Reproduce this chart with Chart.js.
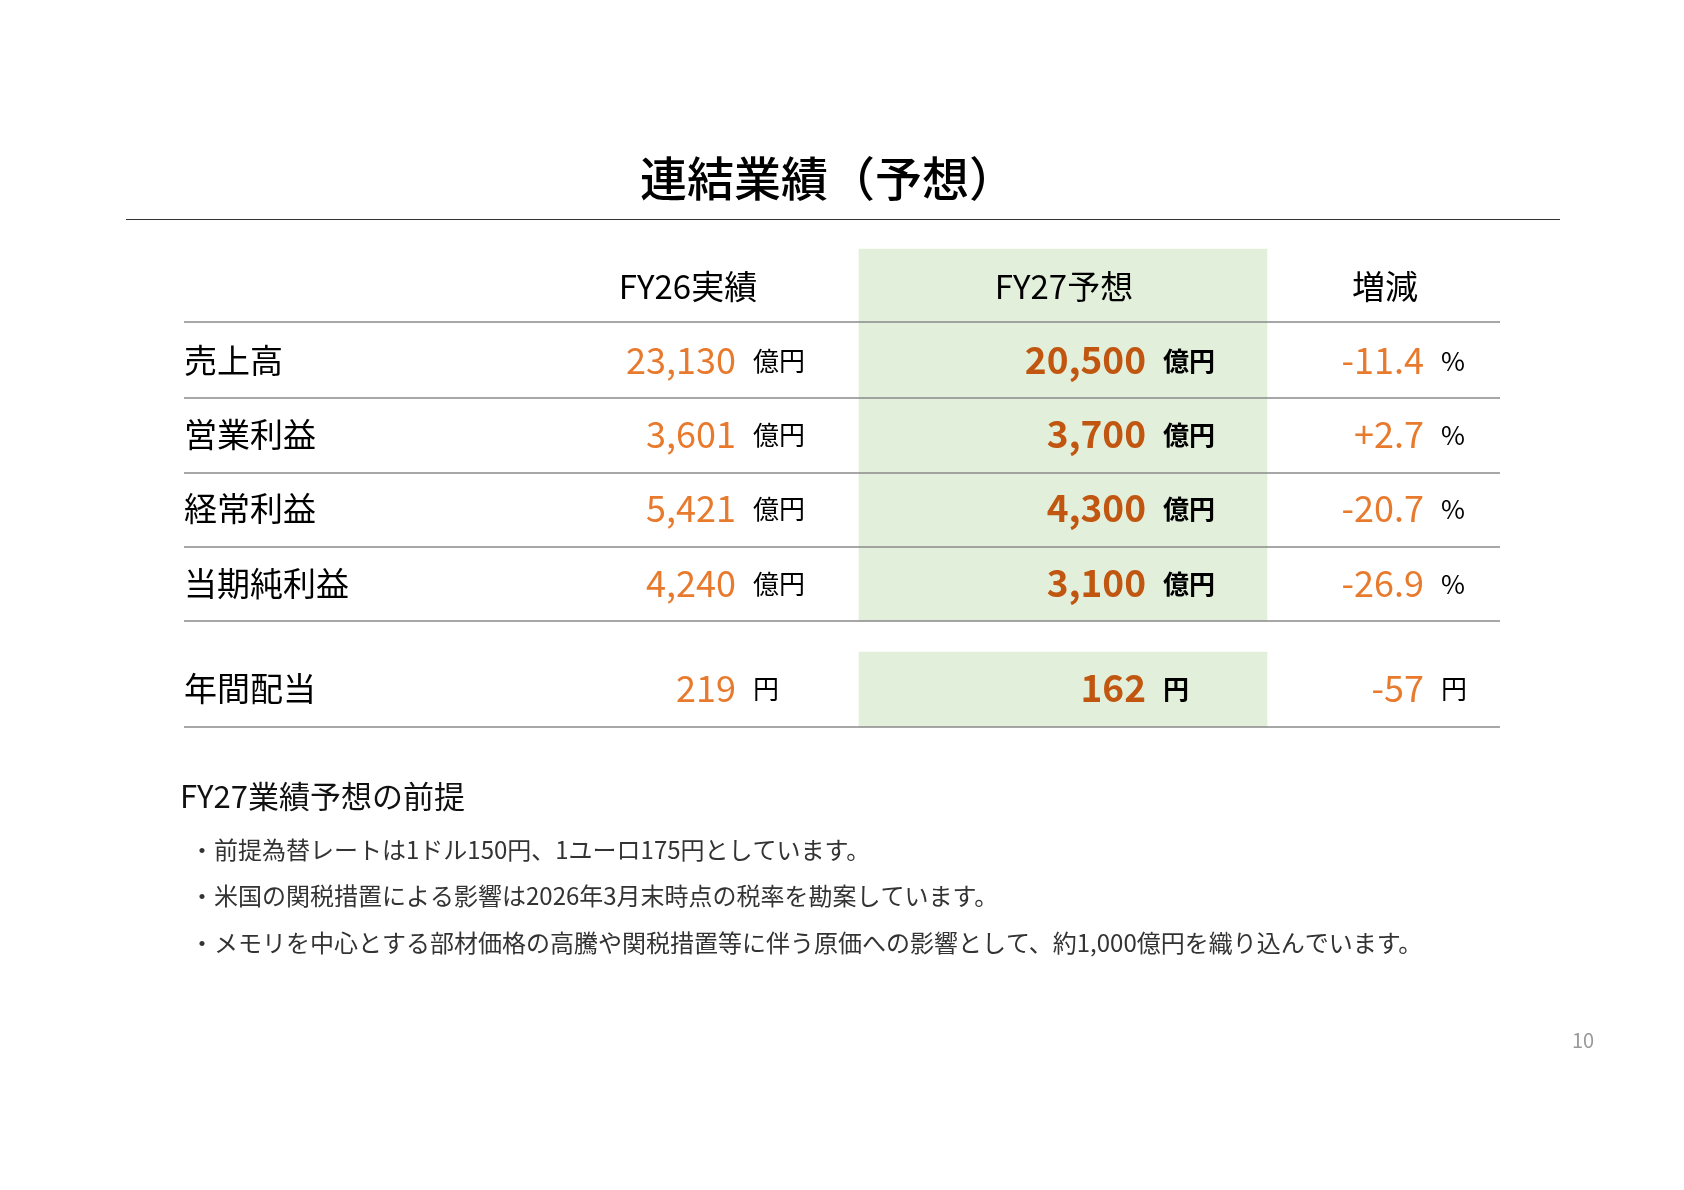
<!DOCTYPE html>
<html><head><meta charset="utf-8">
<script src="https://cdn.jsdelivr.net/npm/chart.js@4"></script>
<style>html,body{margin:0;padding:0;background:#fff}#w{width:1684px;height:1190px}</style>
</head><body><div id="w"><canvas id="c"></canvas></div>
<script>
const title = "連結業績（予想）";
const headers = ["FY26実績", "FY27予想", "増減"];
const rowLabels = ["売上高", "営業利益", "経常利益", "当期純利益", "年間配当"];
const fy26 = ["23,130", "3,601", "5,421", "4,240", "219"];
const fy27 = ["20,500", "3,700", "4,300", "3,100", "162"];
const diff = ["-11.4", "+2.7", "-20.7", "-26.9", "-57"];
const units = ["億円", "億円", "億円", "億円", "円"];
const diffUnits = ["%", "%", "%", "%", "円"];
const noteTitle = "FY27業績予想の前提";
const notes = [
  "・前提為替レートは1ドル150円、1ユーロ175円としています。",
  "・米国の関税措置による影響は2026年3月末時点の税率を勘案しています。",
  "・メモリを中心とする部材価格の高騰や関税措置等に伴う原価への影響として、約1,000億円を織り込んでいます。"
];
const pageNo = "10";

const F = '"Noto Sans CJK JP","Noto Sans",sans-serif';
const rowY = [360, 434, 508, 583, 688];
const lineY = [322, 398, 473, 547, 621, 727];

const plugin = {
  id: 'table',
  afterDraw(chart) {
    const ctx = chart.ctx, X = v => chart.scales.x.getPixelForValue(v), Y = v => chart.scales.y.getPixelForValue(v);
    ctx.save();
    ctx.textBaseline = 'middle';
    ctx.fillStyle = '#000';
    ctx.font = `500 47px ${F}`; ctx.textAlign = 'center';
    ctx.fillText(title, X(828), Y(178));
    ctx.strokeStyle = '#333'; ctx.lineWidth = 1.2;
    ctx.beginPath(); ctx.moveTo(X(126), Y(219.5)); ctx.lineTo(X(1560), Y(219.5)); ctx.stroke();
    ctx.font = `33px ${F}`;
    [688, 1064, 1385].forEach((x, i) => ctx.fillText(headers[i], X(x), Y(286)));
    ctx.strokeStyle = '#8a8a8a'; ctx.lineWidth = 1.5;
    lineY.forEach(y => { ctx.beginPath(); ctx.moveTo(X(184), Y(y)); ctx.lineTo(X(1500), Y(y)); ctx.stroke(); });
    rowLabels.forEach((lab, i) => {
      const y = Y(rowY[i]);
      ctx.textAlign = 'left'; ctx.fillStyle = '#000'; ctx.font = `33px ${F}`;
      ctx.fillText(lab, X(184), y);
      ctx.textAlign = 'right'; ctx.fillStyle = '#E87A2E'; ctx.font = `36px ${F}`;
      ctx.fillText(fy26[i], X(736), y);
      ctx.fillText(diff[i], X(1424), y);
      ctx.fillStyle = '#C0560F'; ctx.font = `bold 37px ${F}`;
      ctx.fillText(fy27[i], X(1146), y);
      ctx.textAlign = 'left'; ctx.fillStyle = '#000'; ctx.font = `26px ${F}`;
      ctx.fillText(units[i], X(753), y + 1);
      ctx.fillText(diffUnits[i], X(1441), y + 1);
      ctx.font = `bold 26px ${F}`;
      ctx.fillText(units[i], X(1163), y + 1);
    });
    ctx.textAlign = 'left'; ctx.fillStyle = '#111'; ctx.font = `31px ${F}`;
    ctx.fillText(noteTitle, X(180), Y(796));
    ctx.fillStyle = '#333'; ctx.font = `24px ${F}`;
    [850, 896, 943].forEach((y, i) => ctx.fillText(notes[i], X(190), Y(y)));
    ctx.fillStyle = '#999'; ctx.font = `20px ${F}`; ctx.textAlign = 'center';
    ctx.fillText(pageNo, X(1583), Y(1040));
    ctx.restore();
  }
};

const greenBands = [[249, 621], [652, 727]];
new Chart(document.getElementById('c'), {
  type: 'bar',
  data: {
    labels: ['FY27'],
    datasets: greenBands.map(b => ({
      data: [{ x: 1063, y: b }],
      backgroundColor: '#E2EFDA', borderWidth: 0,
      barThickness: 408, grouped: false
    }))
  },
  options: {
    responsive: true, maintainAspectRatio: false, animation: false,
    layout: { padding: 0 },
    plugins: { legend: { display: false }, tooltip: { enabled: false } },
    scales: {
      x: { type: 'linear', min: 0, max: 1684, offset: false, display: false },
      y: { type: 'linear', min: 0, max: 1190, reverse: true, offset: false, display: false }
    }
  },
  plugins: [plugin]
});
</script></body></html>
